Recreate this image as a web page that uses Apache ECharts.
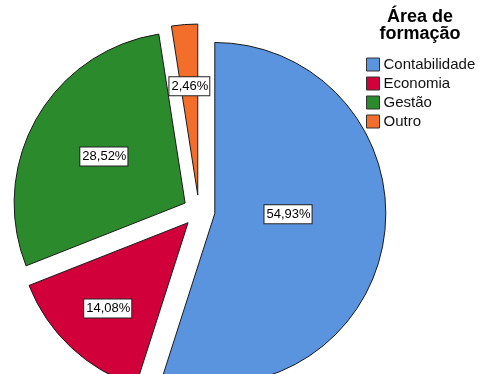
<!DOCTYPE html>
<html>
<head>
<meta charset="utf-8">
<script src="https://cdn.jsdelivr.net/npm/echarts@6/dist/echarts.min.js"></script>
<style>
  html, body { margin: 0; padding: 0; background: #fff; }
  #chart { width: 481px; height: 374px; }
</style>
</head>
<body>
<div id="chart"></div>
<script>
// Área de formação — percentage of respondents by field
const categories = ['Contabilidade', 'Economia', 'Gestão', 'Outro'];
const percents = [54.93, 14.08, 28.52, 2.46];
const colors = ['#5A93DE', '#D2003A', '#2B8A2B', '#F26E2A'];

// pie geometry
const R = 171;
const OFFSET = 16;
// radial position of each label (fraction of the radius) and its angular nudge in degrees
const labelRadius = [0.41, 0.67, 0.53, 0.62];
const labelTurn = [-7, 0, 0, 0];

const total = percents.reduce((a, b) => a + b, 0);
function midAngle(i) {
  let before = 0;
  for (let k = 0; k < i; k++) before += percents[k];
  return ((before + percents[i] / 2) / total) * 2 * Math.PI; // clockwise from 12 o'clock
}

const chart = echarts.init(document.getElementById('chart'), null, { renderer: 'canvas' });

chart.setOption({
  animation: false,
  backgroundColor: '#fff',
  title: {
    text: 'Área de\nformação',
    left: 420,
    top: 9,
    padding: 0,
    textAlign: 'center',
    textStyle: {
      fontFamily: 'Liberation Sans, Arial, sans-serif',
      fontWeight: 'bold',
      fontSize: 18,
      lineHeight: 17,
      color: '#000'
    }
  },
  legend: {
    orient: 'vertical',
    left: 366,
    top: 57,
    padding: 0,
    icon: 'rect',
    itemWidth: 13,
    itemHeight: 13,
    itemGap: 4,
    selectedMode: false,
    data: categories,
    itemStyle: { borderColor: '#333', borderWidth: 1 },
    textStyle: {
      fontFamily: 'Liberation Sans, Arial, sans-serif',
      fontSize: 15,
      color: '#111',
      padding: [0, 0, 0, -1]
    }
  },
  series: [{
    type: 'pie',
    center: [199, 211],
    radius: [0, R],
    startAngle: 90,
    clockwise: true,
    selectedMode: 'multiple',
    selectedOffset: OFFSET,
    emphasis: { disabled: true },
    itemStyle: { borderColor: '#1a1a1a', borderWidth: 1 },
    label: {
      show: true,
      position: 'inside',
      formatter: p => p.value.toFixed(2).replace('.', ',') + '%',
      fontFamily: 'Liberation Sans, Arial, sans-serif',
      fontSize: 13,
      color: '#000',
      backgroundColor: '#fff',
      borderColor: '#222',
      borderWidth: 1,
      padding: [3, 1, 2, 2]
    },
    labelLine: { show: false },
    labelLayout: function (p) {
      const i = p.dataIndex;
      const a = midAngle(i);
      const b = a + labelTurn[i] * Math.PI / 180;
      const r0 = OFFSET + 0.5 * R;
      const r1 = OFFSET + labelRadius[i] * R;
      return {
        dx: r1 * Math.sin(b) - r0 * Math.sin(a),
        dy: -r1 * Math.cos(b) + r0 * Math.cos(a)
      };
    },
    data: categories.map((name, i) => ({
      name: name,
      value: percents[i],
      selected: true,
      itemStyle: { color: colors[i] }
    }))
  }]
});
</script>
</body>
</html>
